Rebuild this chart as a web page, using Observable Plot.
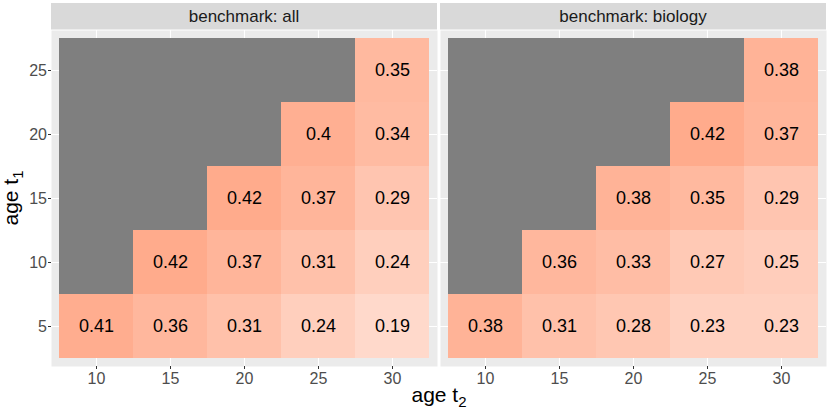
<!DOCTYPE html>
<html><head><meta charset="utf-8">
<script src="https://cdn.jsdelivr.net/npm/d3@7"></script>
<script src="https://cdn.jsdelivr.net/npm/@observablehq/plot@0.6"></script>
<style>body{margin:0;background:#fff;}</style>
</head><body><div id="chart"></div>
<script>
const benchmarks = ["all", "biology"];
const stripLabels = ["benchmark: all", "benchmark: biology"];
const ageT2 = [10, 15, 20, 25, 30];
const ageT1 = [5, 10, 15, 20, 25];
// rows: age t1 = 5,10,15,20,25 ; columns: age t2 = 10,15,20,25,30
const valuesAll = [
  [0.41, 0.36, 0.31, 0.24, 0.19],
  [null, 0.42, 0.37, 0.31, 0.24],
  [null, null, 0.42, 0.37, 0.29],
  [null, null, null, 0.4, 0.34],
  [null, null, null, null, 0.35]
];
const valuesBiology = [
  [0.38, 0.31, 0.28, 0.23, 0.23],
  [null, 0.36, 0.33, 0.27, 0.25],
  [null, null, 0.38, 0.35, 0.29],
  [null, null, null, 0.42, 0.37],
  [null, null, null, null, 0.38]
];
const valueSets = [valuesAll, valuesBiology];

const rows = [];
benchmarks.forEach((b, bi) => {
  ageT1.forEach((t1, i) => {
    ageT2.forEach((t2, j) => {
      rows.push({benchmark: b, t1, t2, value: valueSets[bi][i][j]});
    });
  });
});
const naRows = rows.filter(d => d.value == null);
const valRows = rows.filter(d => d.value != null);

const font = "Liberation Sans, Arial, Helvetica, sans-serif";

const plot = Plot.plot({
  width: 830, height: 415,
  marginLeft: 51, marginRight: 3, marginTop: 30, marginBottom: 49,
  style: {fontFamily: font, background: "white", overflow: "visible"},
  fx: {domain: benchmarks, paddingInner: 0.0077, paddingOuter: 0, axis: null, label: null},
  x: {type: "band", domain: ageT2, padding: 0, insetLeft: 7, insetRight: 7, label: null},
  y: {type: "band", domain: [...ageT1].reverse(), padding: 0, insetTop: 6, insetBottom: 6, label: null},
  color: {type: "linear", domain: [0, 0.64], range: ["#FFFFFF", "#FF7F50"], interpolate: "rgb"},
  marks: [
    Plot.frame({fill: "#EBEBEB", stroke: "none"}),
    Plot.gridX({stroke: "white", strokeOpacity: 1, strokeWidth: 1.1}),
    Plot.gridY({stroke: "white", strokeOpacity: 1, strokeWidth: 1.1}),
    Plot.cell(naRows, {x: "t2", y: "t1", fx: "benchmark", fill: "#7F7F7F", inset: 0}),
    Plot.cell(valRows, {x: "t2", y: "t1", fx: "benchmark", fill: "value", inset: 0}),
    Plot.text(valRows, {x: "t2", y: "t1", fx: "benchmark", text: d => String(d.value), fill: "black", fontSize: 18}),
    Plot.axisX({tickSize: 3, tickPadding: 3, stroke: "#333333", fill: "#4D4D4D", fontSize: 16, label: null}),
    Plot.axisY({tickSize: 3, tickPadding: 1.5, stroke: "#333333", fill: "#4D4D4D", fontSize: 16, label: null})
  ]
});

const svg = d3.select(plot);
const fx = plot.scale("fx");
benchmarks.forEach((b, i) => {
  const x0 = fx.apply(b);
  const bw = fx.bandwidth;
  svg.append("rect").attr("x", x0).attr("y", 3).attr("width", bw).attr("height", 26.5).attr("fill", "#D9D9D9");
  svg.append("text").attr("x", x0 + bw / 2).attr("y", 16.5)
    .attr("text-anchor", "middle").attr("dominant-baseline", "central")
    .attr("font-family", font).attr("font-size", 17).attr("fill", "#1A1A1A")
    .text(stripLabels[i]);
});

// axis titles
const xt = svg.append("text").attr("x", 439).attr("y", 402)
  .attr("text-anchor", "middle").attr("font-family", font).attr("font-size", 21).attr("fill", "black");
xt.append("tspan").text("age t");
xt.append("tspan").attr("font-size", 15).attr("dy", 5).text("2");

const yt = svg.append("text").attr("transform", "translate(18,198) rotate(-90)")
  .attr("text-anchor", "middle").attr("font-family", font).attr("font-size", 21).attr("fill", "black");
yt.append("tspan").text("age t");
yt.append("tspan").attr("font-size", 15).attr("dy", 5).text("1");

document.getElementById("chart").appendChild(plot);
</script>
</body></html>
